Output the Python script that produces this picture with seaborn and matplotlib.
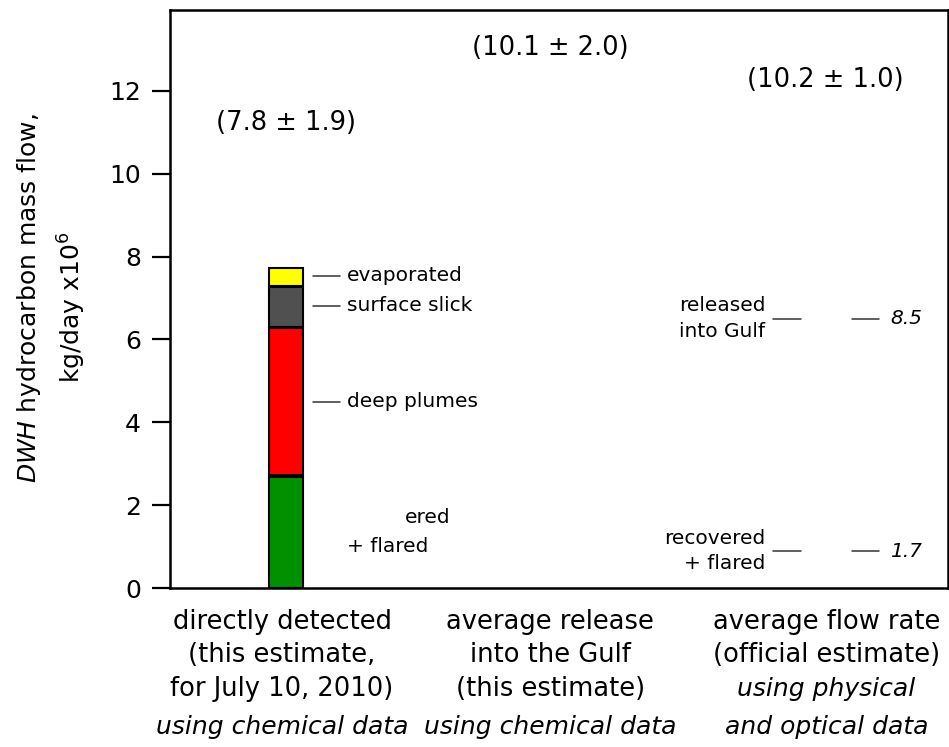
import matplotlib
matplotlib.use("Agg")
import matplotlib.pyplot as plt
import seaborn as sns
import pandas as pd

sns.set_theme(style="white")
plt.rcParams['font.family'] = ['DejaVu Sans']
plt.rcParams['mathtext.fontset'] = 'dejavusans'

# ---- data ----
categories = ["directly detected", "average release", "average flow rate"]
segment_names = ["recovered + flared", "deep plumes", "surface slick", "evaporated"]
segment_low = [0.0, 2.72, 6.30, 7.29]
segment_high = [2.69, 6.27, 7.26, 7.72]
segment_colors = ["#009000", "#ff0000", "#505050", "#ffff00"]
totals = ["(7.8 ± 1.9)", "(10.1 ± 2.0)", "(10.2 ± 1.0)"]
total_y = [11.23, 13.04, 12.27]
official_values = ["8.5", "1.7"]
official_names = ["released\ninto Gulf", "recovered\n+ flared"]
official_y = [6.5, 0.89]
bar_label_names = ["evaporated", "surface slick", "deep plumes"]
bar_label_y = [7.54, 6.81, 4.49]
xtick_lines = [
    ["directly detected", "(this estimate,", "for July 10, 2010)", "using chemical data"],
    ["average release", "into the Gulf", "(this estimate)", "using chemical data"],
    ["average flow rate", "(official estimate)", "using physical", "and optical data"],
]
xtick_italic = [
    [False, False, False, True],
    [False, False, False, True],
    [False, False, True, True],
]
yticks = [0, 2, 4, 6, 8, 10, 12]

fig = plt.figure(figsize=(9.49, 7.47), dpi=100)
ax = fig.add_axes([170/949, 1-588/747, 778/949, 578/747])

for lo, hi, col, name in zip(segment_low, segment_high, segment_colors, segment_names):
    df = pd.DataFrame({"category": [categories[0]], "value": [hi - lo]})
    sns.barplot(data=df, x="category", y="value", order=categories, bottom=lo,
                color=col, saturation=1, edgecolor="black", linewidth=1.5,
                width=0.125, errorbar=None, ax=ax)

ax.set_xlim(-0.43, 2.45)
ax.set_ylim(0, 13.95)
ax.set_yticks(yticks)
ax.set_yticklabels([str(v) for v in yticks], fontsize=18)
ax.set_xticks([0, 1, 2])
ax.set_xticklabels(["", "", ""])
ax.set_xlabel("")
ax.set_ylabel("")
ax.tick_params(axis="y", direction="out", length=13, width=1.6, pad=8, left=True, colors="black")
ax.tick_params(axis="x", length=0)
for sp in ax.spines.values():
    sp.set_visible(True)
    sp.set_color("black")
    sp.set_linewidth(1.8)

# totals
tot_x = [0.0, 0.978, 1.996]
for x, y, t in zip(tot_x, total_y, totals):
    ax.text(x, y, t, ha="center", va="center", fontsize=18.5, color="black")

# bar segment labels
for name, y in zip(bar_label_names, bar_label_y):
    ax.plot([0.10, 0.20], [y, y], color="#333333", lw=1.1)
    ax.text(0.226, y, name, ha="left", va="center", fontsize=14.5, color="black")
ax.text(0.441, 1.69, "ered", ha="left", va="center", fontsize=14.5, color="black")
ax.text(0.226, 1.01, "+ flared", ha="left", va="center", fontsize=14.5, color="black")

# official estimate labels
for name, val, y in zip(official_names, official_values, official_y):
    ax.text(1.774, y, name, ha="right", va="center", fontsize=14.5, linespacing=1.45, color="black")
    ax.plot([1.804, 1.904], [y, y], color="#333333", lw=1.1)
    ax.plot([2.096, 2.193], [y, y], color="#333333", lw=1.1)
    ax.text(2.235, y, val, ha="left", va="center", fontsize=14.5, style="italic", color="black")

# multi-line category labels
trans = ax.get_xaxis_transform()
xl_pos = [-0.015, 0.978, 2.0]
line_y = [-0.0588, -0.116, -0.175, -0.240]
for x, lines, ital in zip(xl_pos, xtick_lines, xtick_italic):
    for ly, txt, it in zip(line_y, lines, ital):
        ax.text(x, ly, txt, transform=trans, ha="center", va="center",
                fontsize=18 if it else 18.5,
                style="italic" if it else "normal", color="black", clip_on=False)

# y axis label
fig.text(29/949, 1-298/747, r"$\it{DWH}$ hydrocarbon mass flow,", rotation=90,
         ha="center", va="center", fontsize=18, color="black")
fig.text(72/949, 1-307/747, r"kg/day x10$^{6}$", rotation=90,
         ha="center", va="center", fontsize=18, color="black")

fig.savefig("out.png", dpi=100)
